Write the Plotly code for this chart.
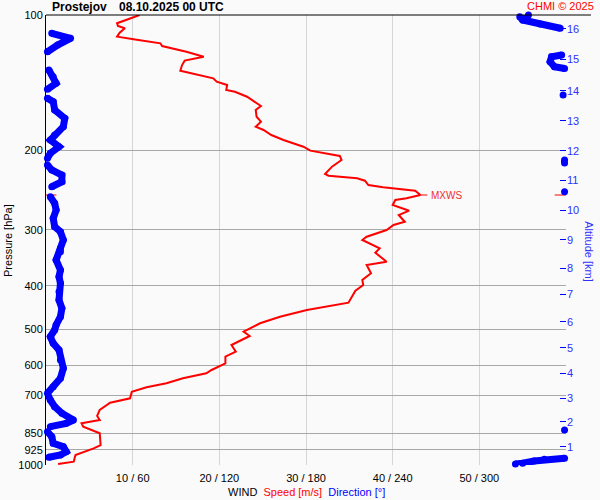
import math
import plotly.graph_objects as go

# ---------------- data ----------------
speed_pressure_hPa = [100, 104.3, 105.8, 107.0, 109.5, 111.7, 113.2, 115.6, 117.2, 120.7,
                      123.8, 126.3, 129.2, 133.0, 133.7, 135.9, 138.3, 140.7, 143.1, 146.8,
                      148.1, 151.9, 155.0, 159.3, 162.6, 168.3, 172.6, 177.1, 180.1, 184.8,
                      189.6, 196.2, 200.2, 203.6, 205.7, 210.0, 217.3, 225.6, 227.6, 230.6,
                      233.5, 238.7, 241.5, 245.7, 251.2, 255.5, 257.7, 264.4, 272.2, 278.3,
                      288.0, 292.9, 300.5, 310.9, 316.2, 330.0, 337.5, 353.4, 359.4, 375.0,
                      388.0, 398.1, 410.0, 435.9, 441.0, 452.4, 468.2, 484.3, 505.5, 516.8,
                      541.2, 560.0, 574.6, 594.3, 615.0, 625.5, 641.7, 658.3, 671.9, 687.2,
                      710.8, 727.0, 754.6, 778.1, 794.3, 807.9, 822.0, 850.3, 902.9, 918.2,
                      950.1, 983.3, 994.9]
speed_ms = [10.8, 8.2, 8.3, 9.1, 8.5, 8.2, 10.1, 13.2, 13.4, 16.2,
            18.2, 16.0, 15.7, 15.5, 16.0, 17.6, 19.3, 19.7, 20.9, 20.8,
            21.8, 23.2, 23.9, 24.8, 24.2, 24.3, 24.8, 24.2, 25.1, 26.0,
            27.4, 29.7, 30.5, 32.4, 33.9, 34.1, 33.0, 32.2, 32.6, 35.9,
            36.8, 37.2, 38.9, 42.6, 43.2, 41.6, 40.3, 40.0, 41.9, 40.7,
            41.4, 40.1, 39.3, 37.0, 36.5, 38.5, 38.0, 39.3, 37.0, 37.5,
            36.5, 36.6, 35.7, 34.9, 33.5, 30.1, 27.0, 24.7, 22.8, 23.5,
            21.4, 21.9, 20.7, 20.7, 19.1, 18.5, 15.8, 13.9, 11.6, 9.9,
            9.7, 7.4, 6.2, 5.9, 6.2, 4.1, 4.3, 6.2, 6.3, 5.5,
            3.4, 3.2, 1.4]

dir_pressure_hPa = [100, 100.9, 102.6, 104.7, 107.0, 109.8, 112.7, 116.6, 120.7, 122.7,
                    123.8, 127.0, 130.3, 131.5, 132.5, 137.1, 141.8, 146.3, 150.6, 153.1,
                    155.8, 162.6, 169.7, 177.1, 184.8, 189.6, 196.2, 202.9, 208.2, 210.0,
                    213.3, 215.4, 221.0, 226.8, 234.7, 240.8, 247.0, 253.4, 262.1, 271.3,
                    283.0, 295.4, 303.1, 316.2, 330.0, 335.7, 350.3, 368.7, 381.6, 394.7,
                    412.1, 429.9, 448.5, 468.2, 488.5, 501.2, 518.6, 536.5, 555.2, 584.3,
                    609.7, 641.7, 669.9, 692.9, 717.1, 742.0, 767.4, 794.3, 807.9, 822.0,
                    836.0, 843.3, 865.2, 894.9, 910.7, 934.4, 950.1, 961.0, 966.0, 971.3,
                    979.7, 991.3, 994.9]
direction_deg = [334, 328, 330, 342, 356, 4, 17, 8, 1, 357,
                 350, 349, 352, 359, 2, 5, 7, 1, 358, 1,
                 5, 6, 13, 12, 6, 3, 9, 3, 1, 359,
                 359, 1, 4, 11, 11, 4, 359, 3, 6, 7,
                 5, 6, 10, 12, 10, 10, 7, 10, 9, 10,
                 9, 9, 11, 10, 7, 6, 3, 5, 9, 10,
                 12, 10, 5, 1, 3, 6, 11, 19, 14, 3,
                 359, 1, 4, 5, 12, 14, 10, 2, 359, 345,
                 338, 330, 325]

pressure_ticks = [100, 200, 300, 400, 500, 600, 700, 850, 925, 1000]
wind_ticks = [10, 20, 30, 40, 50, 60]
wind_tick_labels = ["10 / 60", "20 / 120", "30 / 180", "40 / 240", "50 / 300", ""]

altitude_km = [1, 2, 3, 4, 5, 6, 7, 8, 9, 10, 11, 12, 13, 14, 15, 16]
altitude_pressure_hPa = [910.6, 802.4, 710.8, 625.5, 548.6, 480.3, 417.6, 365.5,
                         316.2, 271.3, 232.9, 200.5, 171.8, 147.5, 125.3, 107.4]

FONT = "Liberation Sans, Arial, sans-serif"
BLUE = "#0000ff"
RED = "#ff0000"

# break the direction trace where it wraps round 0/360
dx, dy = [], []
for i, (d, p) in enumerate(zip(direction_deg, dir_pressure_hPa)):
    if i > 0 and abs(d - direction_deg[i - 1]) > 180:
        dx.append(None)
        dy.append(None)
    dx.append(d)
    dy.append(p)

imax = max(range(len(speed_ms)), key=lambda i: speed_ms[i])
smax, pmax = speed_ms[imax], speed_pressure_hPa[imax]

fig = go.Figure()
fig.add_trace(go.Scatter(x=dx, y=dy, xaxis="x2", yaxis="y", mode="lines+markers",
                         line=dict(color=BLUE, width=7), marker=dict(color=BLUE, size=7),
                         cliponaxis=False, hoverinfo="skip"))
fig.add_trace(go.Scatter(x=speed_ms, y=speed_pressure_hPa, mode="lines",
                         line=dict(color=RED, width=2), hoverinfo="skip"))
# MXWS markers
for x0, x1 in [(smax, smax + 0.8), (0, 1.2), (58.7, 60)]:
    fig.add_trace(go.Scatter(x=[x0, x1], y=[pmax, pmax], mode="lines",
                             line=dict(color=RED, width=1), cliponaxis=False, hoverinfo="skip"))
# invisible trace carrying the altitude axis
fig.add_trace(go.Scatter(x=[60] * len(altitude_km), y=altitude_pressure_hPa, yaxis="y2",
                         mode="markers", marker=dict(opacity=0), hoverinfo="skip"))

fig.update_layout(
    width=600, height=500,
    margin=dict(l=46, r=34, t=15, b=35, autoexpand=False),
    paper_bgcolor="#fafafa", plot_bgcolor="#fafafa",
    showlegend=False,
    font=dict(family=FONT, size=11, color="black"),
    xaxis=dict(range=[0, 60], tickvals=wind_ticks, ticktext=wind_tick_labels,
               showgrid=True, gridcolor="#d6d6d6", gridwidth=1, zeroline=False,
               showline=False, ticks="", tickfont=dict(size=11, color="black"),
               ticklabelstandoff=5, automargin=False),
    xaxis2=dict(range=[0, 360], overlaying="x", visible=False),
    yaxis=dict(type="log", range=[3, 2], tickvals=pressure_ticks,
               ticktext=[str(v) for v in pressure_ticks],
               showgrid=True, gridcolor="#a8a8a8", gridwidth=1, zeroline=False,
               showline=True, linecolor="black", linewidth=1, ticks="",
               tickfont=dict(size=11, color="black"), automargin=False),
    yaxis2=dict(type="log", range=[3, 2], overlaying="y", side="right", anchor="x",
                tickvals=altitude_pressure_hPa, ticktext=[str(a) for a in altitude_km],
                ticks="inside", ticklen=6, tickcolor=BLUE, tickwidth=1,
                tickfont=dict(size=11, color="#3030ff"),
                showgrid=False, showline=False, zeroline=False, automargin=False),
    shapes=[dict(type="line", xref="paper", yref="paper", x0=0, x1=1.048, y0=1, y1=1,
                 line=dict(color="black", width=1))],
    annotations=[
        dict(text="<b>Prostejov</b>", xref="paper", yref="paper", x=0.0077, y=1.0167,
             xanchor="left", yanchor="middle", showarrow=False, font=dict(size=12)),
        dict(text="<b>08.10.2025 00 UTC</b>", xref="paper", yref="paper", x=0.1365, y=1.0167,
             xanchor="left", yanchor="middle", showarrow=False, font=dict(size=12)),
        dict(text="CHMI © 2025", xref="paper", yref="paper", x=1.0577, y=1.02,
             xanchor="right", yanchor="middle", showarrow=False, font=dict(size=11, color=RED)),
        dict(text="Pressure [hPa]", xref="paper", yref="paper", x=-0.0731, y=0.5,
             xanchor="center", yanchor="middle", textangle=-90, showarrow=False,
             font=dict(size=11)),
        dict(text="Altitude [km]", xref="paper", yref="paper", x=1.0452, y=0.474,
             xanchor="center", yanchor="middle", textangle=90, showarrow=False,
             font=dict(size=11, color="#3030ff")),
        dict(text="WIND\u00a0\u00a0<span style='color:#ff0000'>Speed [m/s]</span>\u00a0\u00a0"
                  "<span style='color:#0000ff'>Direction [°]</span>",
             xref="paper", yref="paper", x=0.5, y=-0.0593, xanchor="center", yanchor="middle",
             showarrow=False, font=dict(size=11)),
        dict(text="MXWS", xref="x", yref="y", x=smax + 1.0, y=math.log10(pmax),
             xanchor="left", yanchor="middle", showarrow=False,
             font=dict(size=10, color="#ee3030")),
    ],
)

fig.write_html("out.html", config={"displayModeBar": False},
               post_script="document.body.style.margin='0';document.body.style.padding='0';")
